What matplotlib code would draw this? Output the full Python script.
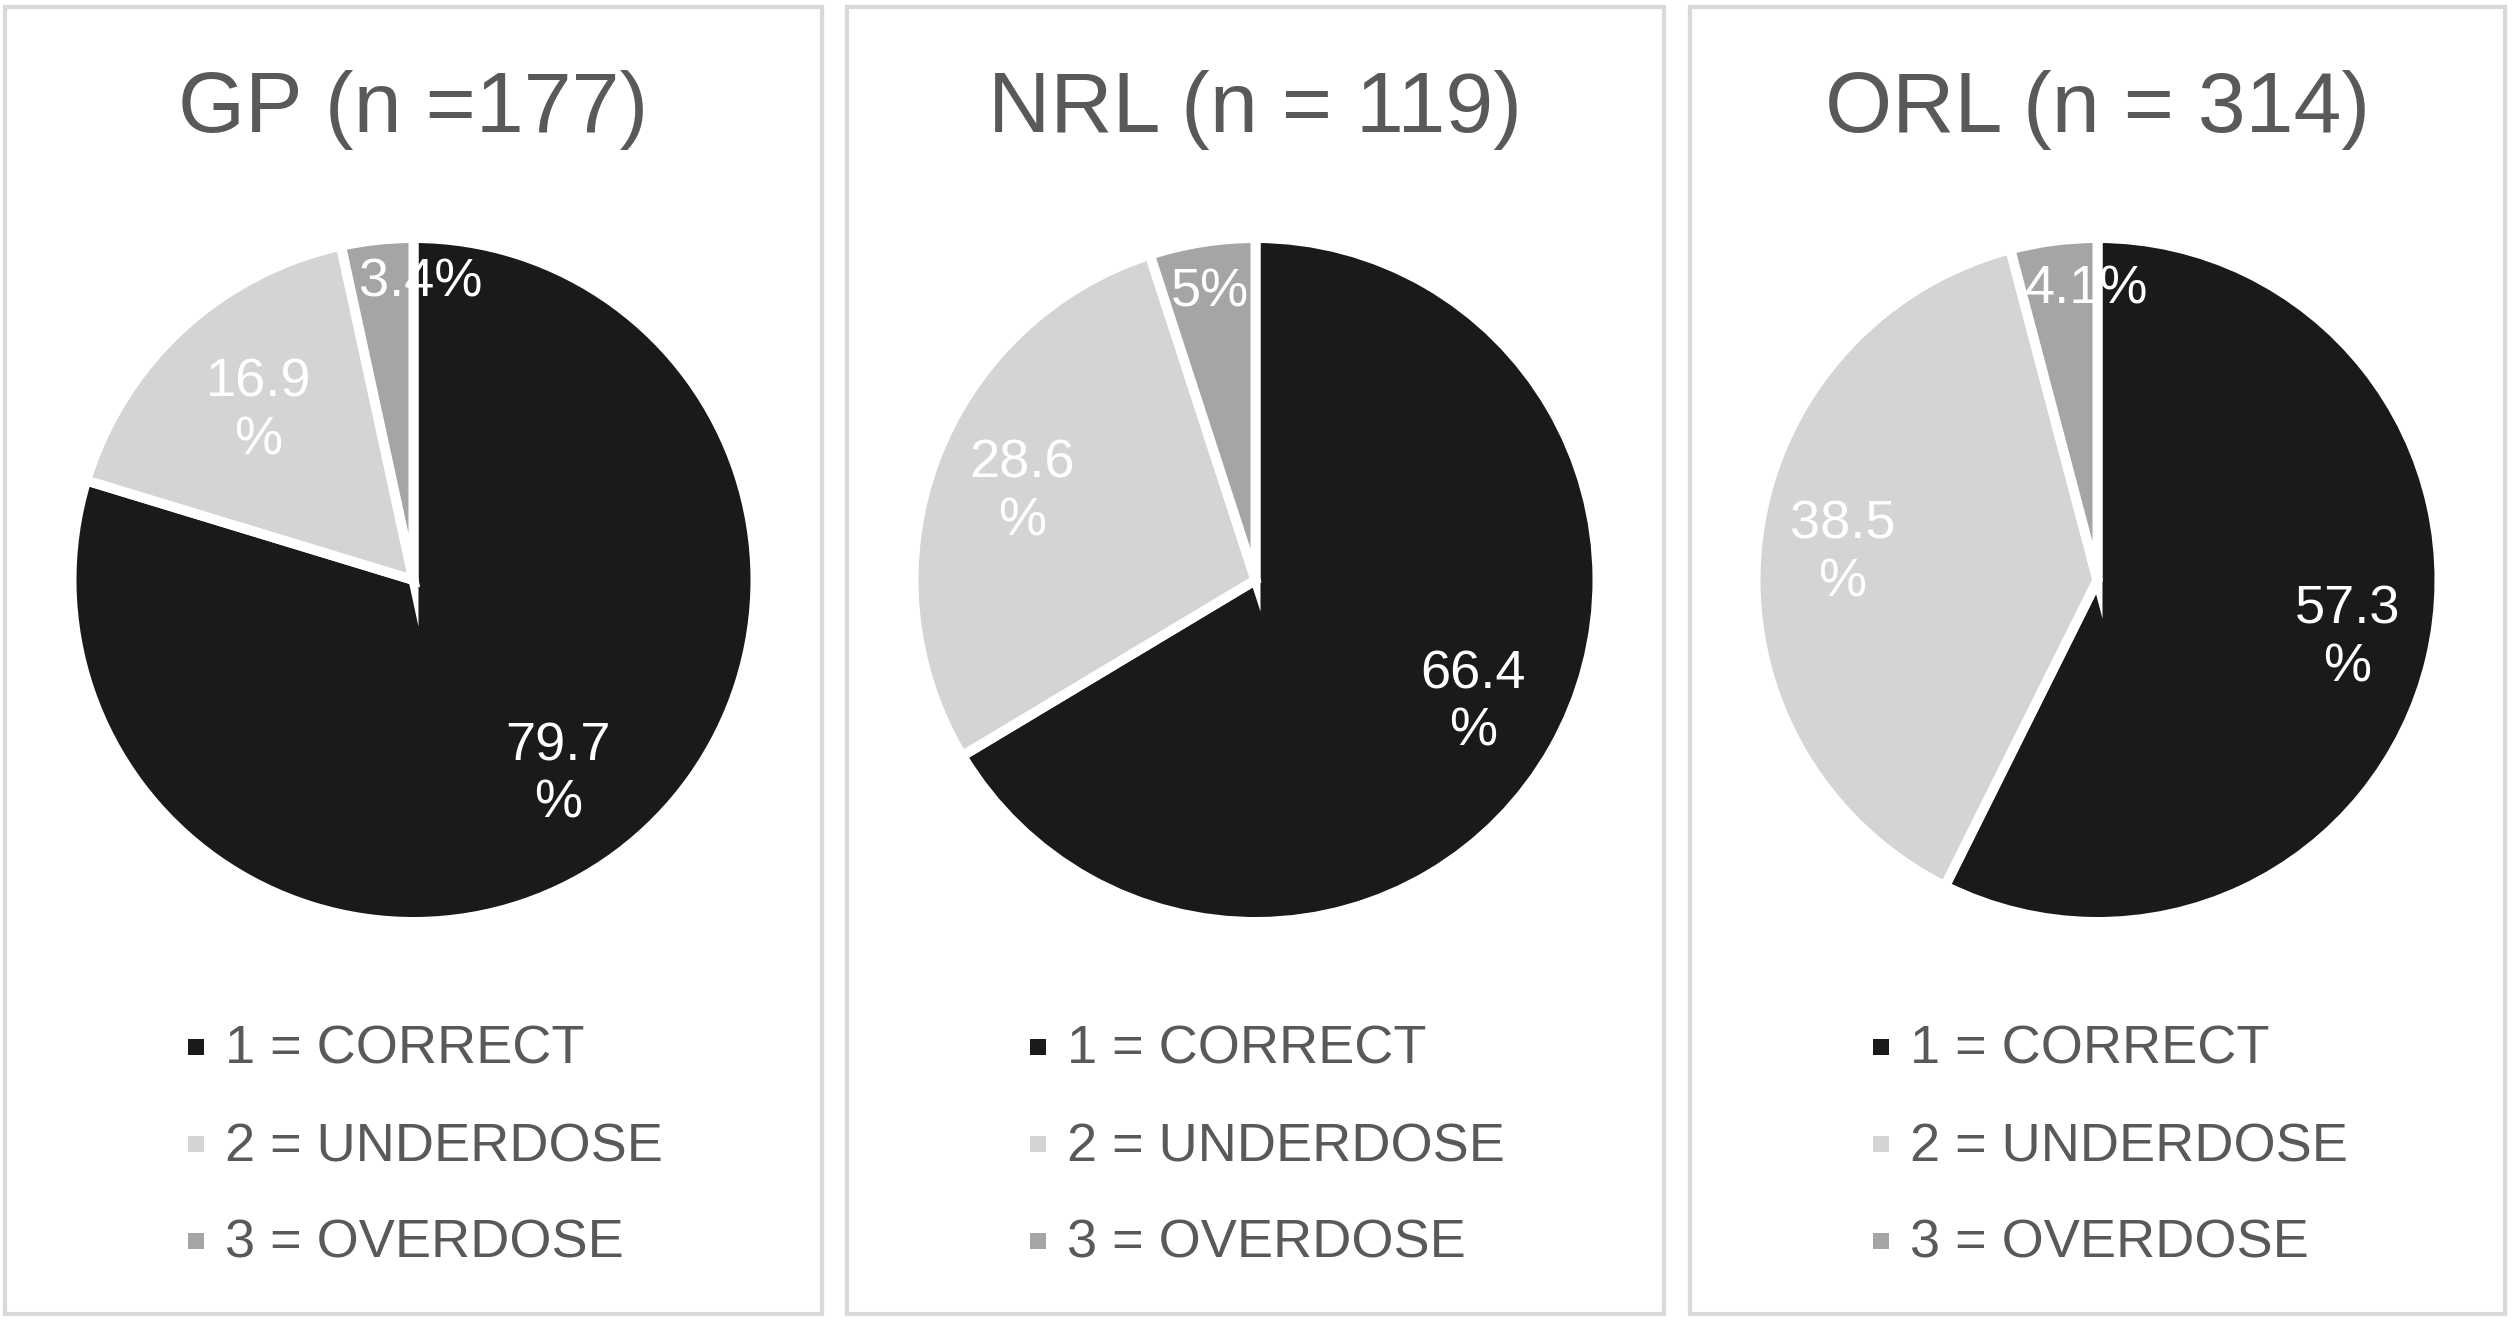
import numpy as np
import matplotlib
matplotlib.use("Agg")
import matplotlib.pyplot as plt
from matplotlib.patches import Rectangle

plt.rcParams['font.family'] = ['Liberation Sans', 'DejaVu Sans']

# data
categories = ['1 = CORRECT', '2 = UNDERDOSE', '3 = OVERDOSE']
titles = ['GP (n =177)', 'NRL (n = 119)', 'ORL (n = 314)']
gp_values = [79.7, 16.9, 3.4]
nrl_values = [66.4, 28.6, 5.0]
orl_values = [57.3, 38.5, 4.1]
gp_labels = ['79.7\n%', '16.9\n%', '3.4%']
nrl_labels = ['66.4\n%', '28.6\n%', '5%']
orl_labels = ['57.3\n%', '38.5\n%', '4.1%']

# style
colors = ['#1a1a1a', '#d4d4d4', '#a5a5a5']
text_color = '#595959'
border_color = '#d9d9d9'
# label placement: radial distance (in radii) and angle tweak (deg)
label_dist = [[0.71, 0.67, 0.87], [0.73, 0.73, 0.85], [0.75, 0.75, 0.85]]
label_turn = [[0, 0, -7.5], [0, 0, 0], [0, 0, -5.3]]

W, H = 2513, 1322
fig = plt.figure(figsize=(W / 100, H / 100), dpi=100)

panels = [(5, 822), (847, 1664), (1690, 2505)]
top, bottom = 7, 1314
pie_cy = 580
R = 342      # wedge radius in px
pad = 1.05   # axis limit in units of radius

all_values = [gp_values, nrl_values, orl_values]
all_labels = [gp_labels, nrl_labels, orl_labels]

for i, (x0, x1) in enumerate(panels):
    # panel frame
    fig.add_artist(Rectangle((x0 / W, 1 - bottom / H), (x1 - x0) / W, (bottom - top) / H,
                             transform=fig.transFigure, fill=False,
                             edgecolor=border_color, linewidth=3))
    cx = (x0 + x1) / 2

    # title
    fig.text(cx / W, 1 - 132 / H, titles[i], ha='center', va='baseline',
             fontsize=62, color=text_color)

    # pie
    side = 2 * R * pad
    ax = fig.add_axes([(cx - side / 2) / W, 1 - (pie_cy + side / 2) / H, side / W, side / H])
    wedges, _ = ax.pie(all_values[i], colors=colors, startangle=90, counterclock=False,
                       radius=1, wedgeprops=dict(edgecolor='white', linewidth=7.2))
    ax.set_xlim(-pad, pad)
    ax.set_ylim(-pad, pad)
    ax.set_aspect('equal')
    ax.axis('off')

    for w, lab, d, t in zip(wedges, all_labels[i], label_dist[i], label_turn[i]):
        ang = np.deg2rad((w.theta1 + w.theta2) / 2 + t)
        ax.text(d * np.cos(ang), d * np.sin(ang), lab, ha='center', va='center',
                fontsize=39, color='white', linespacing=1.2)

    # legend
    for k, cat in enumerate(categories):
        base = 1064 + 97 * k
        fig.add_artist(Rectangle(((x0 + 183) / W, 1 - (base - 9) / H), 16 / W, 16 / H,
                                 transform=fig.transFigure, facecolor=colors[k],
                                 edgecolor='none'))
        fig.text((x0 + 220) / W, 1 - base / H, cat, ha='left', va='baseline',
                 fontsize=39, color=text_color)

fig.savefig('out.png', dpi=100, facecolor='white')
